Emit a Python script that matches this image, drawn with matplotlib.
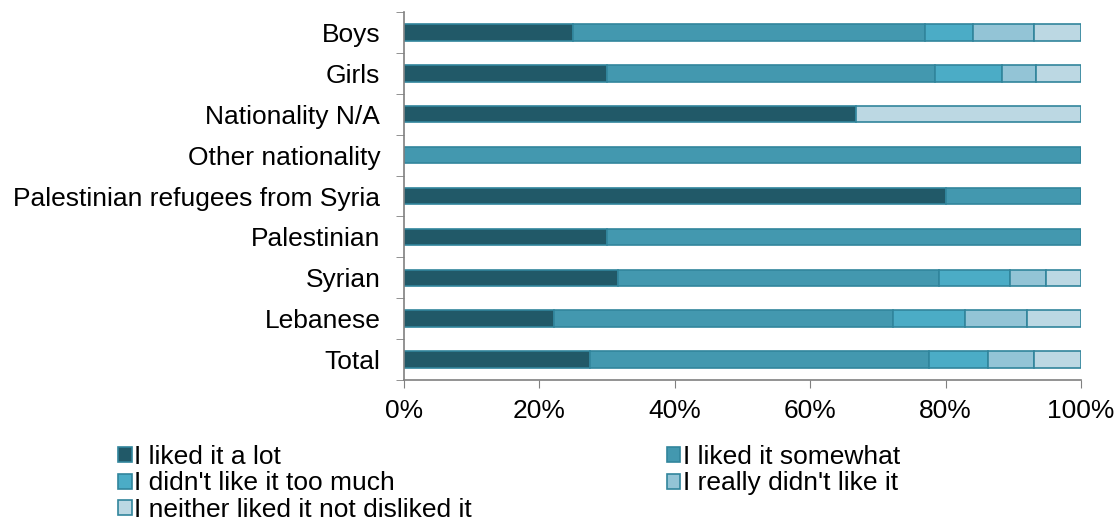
import numpy as np
import matplotlib.pyplot as plt

plt.rcParams['font.family'] = ['Liberation Sans', 'DejaVu Sans']

groups = ["Total", "Lebanese", "Syrian", "Palestinian", "Palestinian refugees from Syria",
          "Other nationality", "Nationality N/A", "Girls", "Boys"]

liked_lot      = [27.5, 22.2, 31.6, 30.0, 80.0, 0.0, 66.7, 30.0, 25.0]
liked_somewhat = [50.0, 50.1, 47.4, 70.0, 20.0, 100.0, 0.0, 48.4, 52.0]
not_too_much   = [8.7, 10.5, 10.5, 0.0, 0.0, 0.0, 0.0, 10.0, 7.0]
really_not     = [6.9, 9.2, 5.3, 0.0, 0.0, 0.0, 0.0, 5.0, 9.0]
neither        = [6.9, 8.0, 5.2, 0.0, 0.0, 0.0, 33.3, 6.6, 7.0]

series = [liked_lot, liked_somewhat, not_too_much, really_not, neither]
names = ["I liked it a lot", "I liked it somewhat", "I didn't like it too much",
         "I really didn't like it", "I neither liked it not disliked it"]
colors = ["#215968", "#4398AF", "#4BACC6", "#93C4D6", "#BCD8E3"]

fs = 19
fig = plt.figure(figsize=(11.19, 5.27), dpi=100)
ax = fig.add_axes([0.361, 0.279, 0.605, 0.698])

y = np.arange(len(groups))
left = np.zeros(len(groups))
handles = []
for vals, name, c in zip(series, names, colors):
    vals = np.array(vals)
    b = ax.barh(y, vals, left=left, height=0.4, color=c, edgecolor="#31859C",
                linewidth=1.2, label=name)
    handles.append(b)
    left += vals

ax.set_xlim(0, 100)
ax.set_ylim(-0.5, len(groups) - 0.5)
ax.set_xticks([0, 20, 40, 60, 80, 100])
ax.set_xticklabels(["0%", "20%", "40%", "60%", "80%", "100%"], fontsize=fs)
ax.set_yticks(y)
ax.set_yticklabels(groups, fontsize=fs)
ax.set_yticks(np.arange(-0.5, len(groups)), minor=True)
ax.tick_params(axis="y", which="major", length=0, pad=17)
ax.tick_params(axis="y", which="minor", length=6, color="#808080", direction="out")
ax.tick_params(axis="x", length=6, color="#808080", direction="out", pad=8)
for s in ["top", "right"]:
    ax.spines[s].set_visible(False)
for s in ["left", "bottom"]:
    ax.spines[s].set_color("#808080")
    ax.spines[s].set_linewidth(1.2)

order = [0, 2, 4, 1, 3]
fig.legend([handles[i] for i in order], [names[i] for i in order], ncol=2,
           loc="upper left", bbox_to_anchor=(0.094, 0.18), frameon=False,
           fontsize=fs, handlelength=0.5, handleheight=0.5, handletextpad=0.1,
           columnspacing=7.4, labelspacing=0.08, borderpad=0)

fig.savefig("out.png", dpi=100)
